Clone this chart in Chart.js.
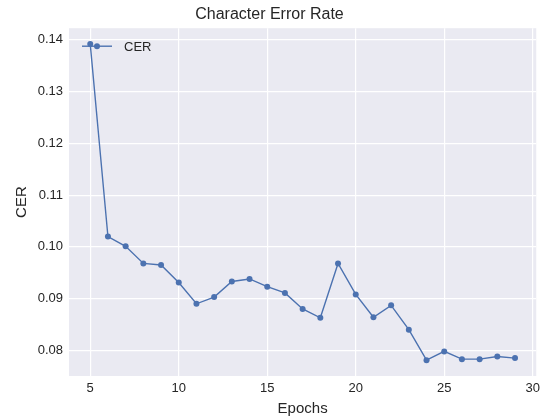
<!DOCTYPE html>
<html>
<head>
<meta charset="utf-8">
<script src="https://cdn.jsdelivr.net/npm/chart.js@4/dist/chart.umd.min.js"></script>
<style>
  html, body { margin: 0; padding: 0; background: #ffffff; }
  #wrap { width: 545px; height: 418px; }
</style>
</head>
<body>
<div id="wrap"><canvas id="chart" width="545" height="418"></canvas></div>
<script>
// Character error rate per training epoch
const epochs = [5, 6, 7, 8, 9, 10, 11, 12, 13, 14, 15, 16, 17, 18, 19, 20, 21, 22, 23, 24, 25, 26, 27, 28, 29];
const cer = [0.1392, 0.1020, 0.1001, 0.0968, 0.0965, 0.0931, 0.0890, 0.0903, 0.0933, 0.0938,
             0.0923, 0.0911, 0.0880, 0.0863, 0.0968, 0.0908, 0.0864, 0.0887, 0.0840, 0.0781,
             0.0798, 0.0783, 0.0783, 0.0788, 0.0785];
const xTicks = [5, 10, 15, 20, 25, 30];
const yTicks = [0.08, 0.09, 0.10, 0.11, 0.12, 0.13, 0.14];

const FONT = "'Liberation Sans', Arial, sans-serif";
const TEXT = '#262626';
const LINE = '#4C72B0';

// padded axis limits around the data
const xPad = (Math.max(...epochs) - Math.min(...epochs)) * 0.05;
const yPad = (Math.max(...cer) - Math.min(...cer)) * 0.05;

// grey plot panel behind the grid
const panel = {
  id: 'panel',
  beforeDraw(chart) {
    const { ctx, chartArea: a } = chart;
    ctx.save();
    ctx.fillStyle = '#EAEAF2';
    ctx.fillRect(a.left, a.top, a.right - a.left, a.bottom - a.top);
    ctx.restore();
  }
};

// legend entry inside the upper-left corner of the panel
const insideLegend = {
  id: 'insideLegend',
  afterDatasetsDraw(chart) {
    const { ctx, chartArea: a } = chart;
    const ds = chart.data.datasets[0];
    const y = a.top + 18;
    const x0 = a.left + 13, x1 = a.left + 43;
    ctx.save();
    ctx.strokeStyle = ds.borderColor;
    ctx.lineWidth = ds.borderWidth;
    ctx.beginPath();
    ctx.moveTo(x0, y);
    ctx.lineTo(x1, y);
    ctx.stroke();
    ctx.fillStyle = ds.pointBackgroundColor;
    ctx.beginPath();
    ctx.arc((x0 + x1) / 2, y, ds.pointRadius, 0, Math.PI * 2);
    ctx.fill();
    ctx.fillStyle = TEXT;
    ctx.font = '13px ' + FONT;
    ctx.textBaseline = 'middle';
    ctx.textAlign = 'left';
    ctx.fillText(ds.label, a.left + 55, y + 1);
    ctx.restore();
  }
};

new Chart(document.getElementById('chart'), {
  type: 'line',
  data: {
    datasets: [{
      label: 'CER',
      data: epochs.map((e, i) => ({ x: e, y: cer[i] })),
      borderColor: LINE,
      backgroundColor: LINE,
      pointBackgroundColor: LINE,
      pointBorderWidth: 0,
      pointRadius: 3,
      borderWidth: 1.4,
      tension: 0
    }]
  },
  plugins: [panel, insideLegend],
  options: {
    responsive: false,
    animation: false,
    devicePixelRatio: 1,
    layout: { padding: { left: 0, right: 6, top: 0, bottom: 0 } },
    plugins: {
      legend: { display: false },
      tooltip: { enabled: false },
      title: {
        display: true,
        text: 'Character Error Rate',
        color: TEXT,
        font: { family: FONT, size: 16, weight: 'normal' },
        padding: { top: 4.5, bottom: 4.5 }
      }
    },
    scales: {
      x: {
        type: 'linear',
        min: Math.min(...epochs) - xPad,
        max: Math.max(...epochs) + xPad,
        afterBuildTicks(scale) { scale.ticks = xTicks.map(v => ({ value: v })); },
        afterFit(scale) { scale.height = 42; },
        grid: { color: '#ffffff', lineWidth: 1.2, drawTicks: false },
        border: { display: false },
        ticks: {
          color: TEXT,
          font: { family: FONT, size: 13 },
          padding: 5,
          maxRotation: 0,
          callback: v => String(v)
        },
        title: {
          display: true,
          text: 'Epochs',
          color: TEXT,
          font: { family: FONT, size: 15 },
          padding: { top: 2.5, bottom: 0 }
        }
      },
      y: {
        type: 'linear',
        min: Math.min(...cer) - yPad,
        max: Math.max(...cer) + yPad,
        afterBuildTicks(scale) { scale.ticks = yTicks.map(v => ({ value: v })); },
        afterFit(scale) { scale.width = 69; },
        grid: { color: '#ffffff', lineWidth: 1.2, drawTicks: false },
        border: { display: false },
        ticks: {
          color: TEXT,
          font: { family: FONT, size: 13 },
          padding: 6,
          callback: v => v.toFixed(2)
        },
        title: {
          display: true,
          text: 'CER',
          color: TEXT,
          font: { family: FONT, size: 15 },
          padding: { top: 13, bottom: 0 }
        }
      }
    }
  }
});
</script>
</body>
</html>
